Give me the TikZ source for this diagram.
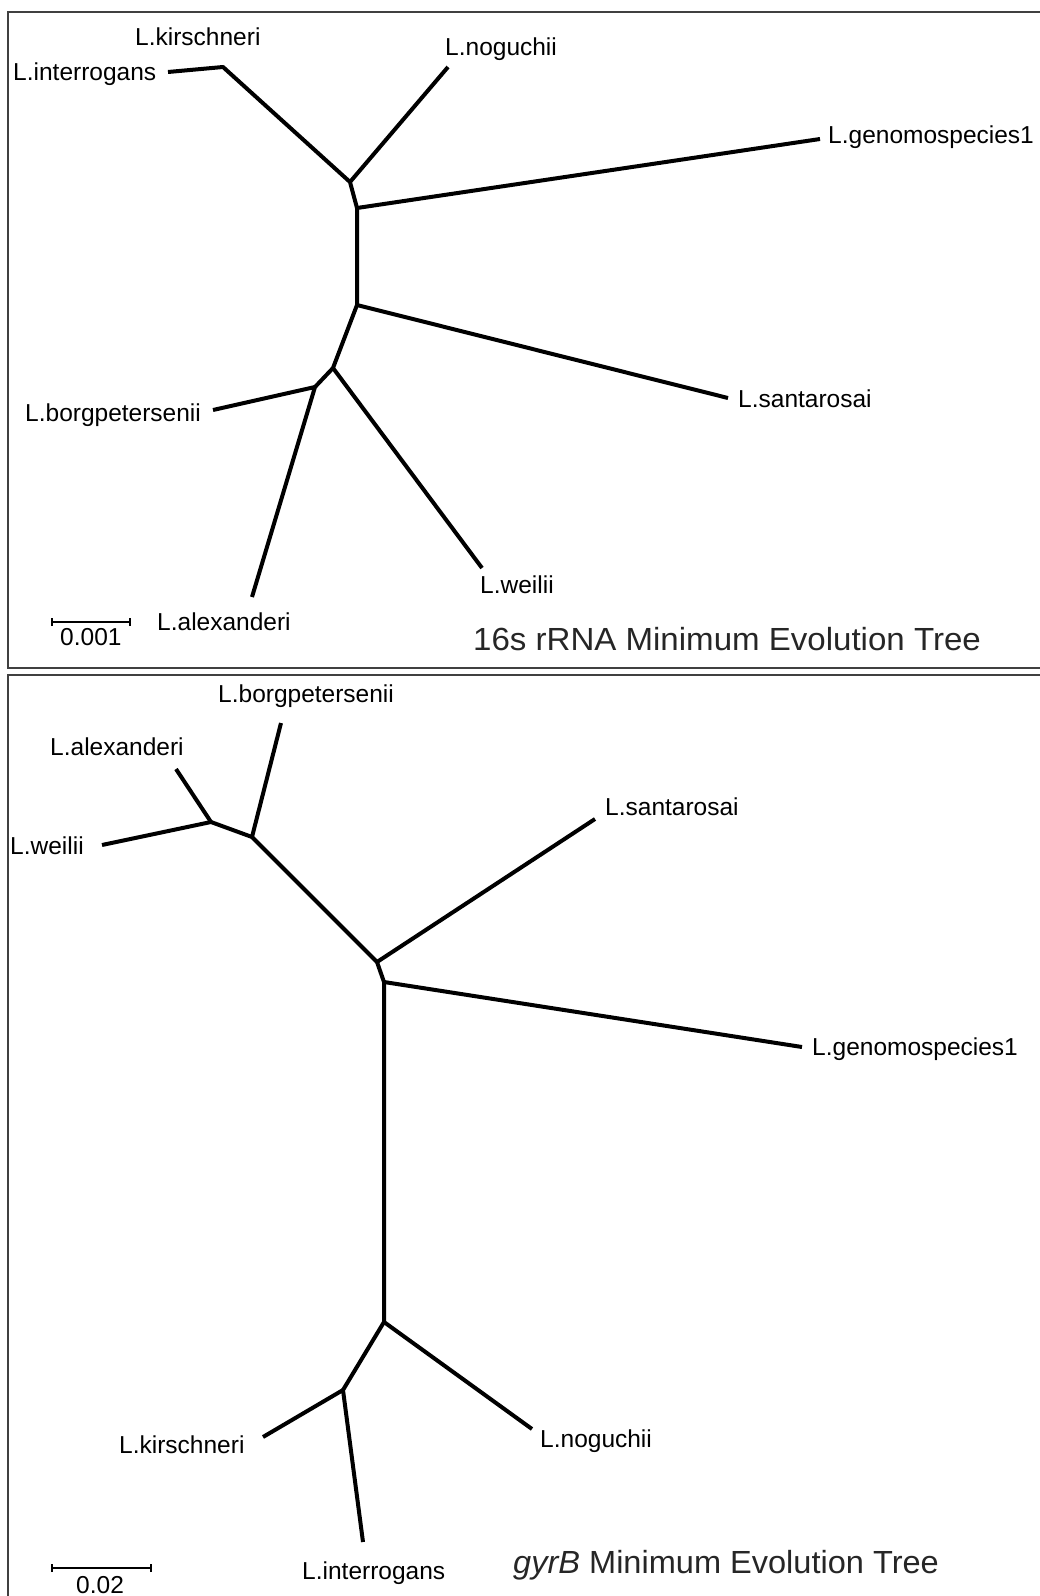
\documentclass[tikz,border=0pt]{standalone}
\usepackage{fontspec}
\setmainfont{Liberation Sans}
\begin{document}
\begin{tikzpicture}[x=1pt,y=-1pt,
  branch/.style={line width=4pt,line join=round,line cap=butt},
  frame/.style={draw=black!75,line width=1.2pt},
  scalebar/.style={line width=1.2pt},
  lab/.style={anchor=base west,inner sep=0pt,font=\fontsize{24.5}{29}\selectfont},
  ttl/.style={anchor=base west,inner sep=0pt,font=\fontsize{32}{38}\selectfont,text=black!85}]
\useasboundingbox (0,0) rectangle (1040,1596);
\clip (0,0) rectangle (1040,1596);
\fill[white] (0,0) rectangle (1040,1596);
% frames
\draw[frame] (8,12) rectangle (1046,668);
\draw[frame] (8,675) rectangle (1046,1602);
% ---------- top tree ----------
\coordinate (tint) at (168,72);
\coordinate (tkir) at (223,67);
\coordinate (tnog) at (448,67);
\coordinate (tgen) at (820,139);
\coordinate (tsan) at (728,398);
\coordinate (twei) at (482,568);
\coordinate (tale) at (252,597);
\coordinate (tbor) at (213,410);
\coordinate (t1) at (350,182);
\coordinate (t2) at (357,208);
\coordinate (t3) at (357,305);
\coordinate (t4) at (333,368);
\coordinate (t5) at (315,387);
\draw[branch] (tint) -- (tkir) -- (t1) -- (t2) -- (t3) -- (t4) -- (t5) -- (tale);
\draw[branch] (tnog) -- (t1);
\draw[branch] (t2) -- (tgen);
\draw[branch] (t3) -- (tsan);
\draw[branch] (t4) -- (twei);
\draw[branch] (t5) -- (tbor);
\node[lab] (ltint) at (13,80) {L.interrogans};
\node[lab] (ltkir) at (135,45) {L.kirschneri};
\node[lab] (ltnog) at (445,55) {L.noguchii};
\node[lab] (ltgen) at (828,143) {L.genomospecies1};
\node[lab] (ltsan) at (738,407) {L.santarosai};
\node[lab] (ltbor) at (25,421) {L.borgpetersenii};
\node[lab] (ltwei) at (480,593) {L.weilii};
\node[lab] (ltale) at (157,630) {L.alexanderi};
\coordinate (tsa) at (52,622);
\coordinate (tsb) at (130,622);
\draw[scalebar] (tsa) -- (tsb);
\draw[scalebar] ([yshift=-4pt]tsa) -- ([yshift=4pt]tsa);
\draw[scalebar] ([yshift=-4pt]tsb) -- ([yshift=4pt]tsb);
\node[lab] (ltscale) at (60,645) {0.001};
\node[ttl] (ttitle) at (473,650) {\scalebox{1.033}[1]{16s rRNA Minimum Evolution Tree}};
% ---------- bottom tree ----------
\coordinate (bbor) at (281,723);
\coordinate (bale) at (176,769);
\coordinate (bwei) at (102,845);
\coordinate (bsan) at (595,819);
\coordinate (bgen) at (802,1047);
\coordinate (bkir) at (263,1437);
\coordinate (bint) at (363,1542);
\coordinate (bnog) at (532,1429);
\coordinate (b1) at (211,822);
\coordinate (b2) at (252,837);
\coordinate (b3) at (377,962);
\coordinate (b4) at (384,982);
\coordinate (b5) at (384,1322);
\coordinate (b6) at (343,1390);
\draw[branch] (bwei) -- (b1) -- (b2) -- (b3) -- (b4) -- (b5) -- (b6) -- (bint);
\draw[branch] (bale) -- (b1);
\draw[branch] (bbor) -- (b2);
\draw[branch] (b3) -- (bsan);
\draw[branch] (b4) -- (bgen);
\draw[branch] (b5) -- (bnog);
\draw[branch] (b6) -- (bkir);
\node[lab] (lbbor) at (218,702) {L.borgpetersenii};
\node[lab] (lbale) at (50,755) {L.alexanderi};
\node[lab] (lbwei) at (10,854) {L.weilii};
\node[lab] (lbsan) at (605,815) {L.santarosai};
\node[lab] (lbgen) at (812,1055) {L.genomospecies1};
\node[lab] (lbkir) at (119,1453) {L.kirschneri};
\node[lab] (lbnog) at (540,1447) {L.noguchii};
\node[lab] (lbint) at (302,1579) {L.interrogans};
\coordinate (bsa) at (52,1568);
\coordinate (bsb) at (151,1568);
\draw[scalebar] (bsa) -- (bsb);
\draw[scalebar] ([yshift=-4pt]bsa) -- ([yshift=4pt]bsa);
\draw[scalebar] ([yshift=-4pt]bsb) -- ([yshift=4pt]bsb);
\node[lab] (lbscale) at (76,1593) {0.02};
\node[ttl] (btitle) at (513,1573) {\scalebox{1.017}[1]{\textit{gyrB} Minimum Evolution Tree}};
\end{tikzpicture}
\end{document}
